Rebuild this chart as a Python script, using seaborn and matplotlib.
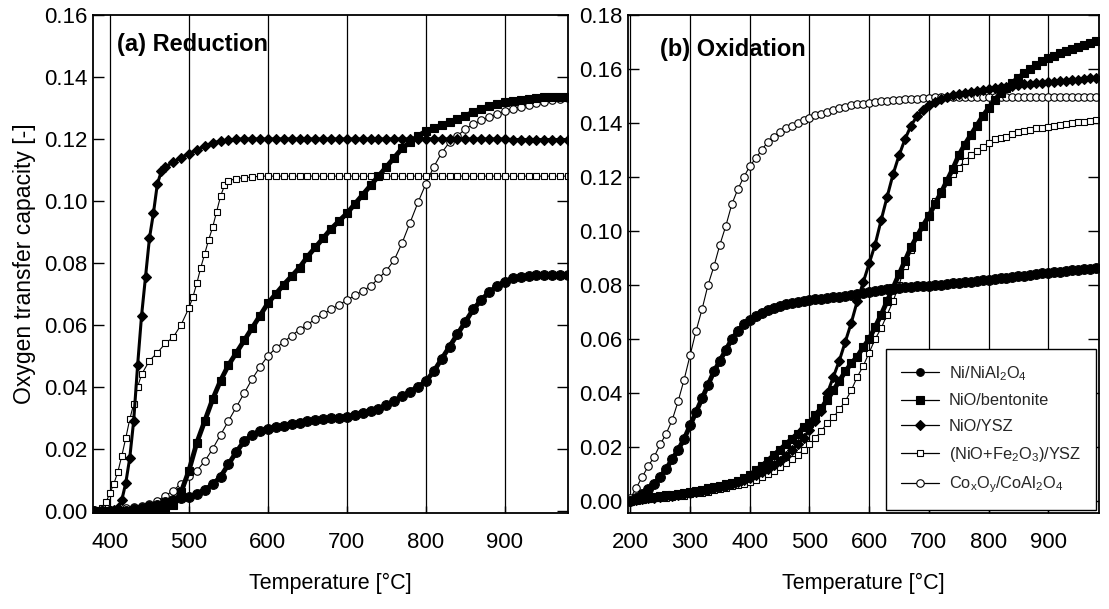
import numpy as np
import pandas as pd
import matplotlib
matplotlib.use("Agg")
import matplotlib.pyplot as plt
from matplotlib import font_manager as fm
from matplotlib.lines import Line2D
import seaborn as sns

# ---------------- data ----------------
series_names = ["Ni/NiAl$_2$O$_4$", "NiO/bentonite", "NiO/YSZ",
                "(NiO+Fe$_2$O$_3$)/YSZ", "Co$_x$O$_y$/CoAl$_2$O$_4$"]

# (a) Reduction
temp_red = [380, 390, 400, 410, 420, 430, 440, 450, 460, 470, 480, 490, 500, 510, 520, 530,
            540, 550, 560, 570, 580, 590, 600, 610, 620, 630, 640, 650, 660, 670, 680, 690,
            700, 710, 720, 730, 740, 750, 760, 770, 780, 790, 800, 810, 820, 830, 840, 850,
            860, 870, 880, 890, 900, 910, 920, 930, 940, 950, 960, 970, 980]

red_ni_nial2o4 = [0.000, 0.000, 0.000, 0.000, 0.000, 0.0005, 0.001, 0.0015, 0.002, 0.003,
                  0.0035, 0.004, 0.0045, 0.0055, 0.0068, 0.0085, 0.011, 0.015, 0.019, 0.0225,
                  0.0245, 0.0257, 0.0265, 0.027, 0.0275, 0.028, 0.0285, 0.029, 0.0293, 0.0296,
                  0.0299, 0.0301, 0.0304, 0.031, 0.0316, 0.0322, 0.033, 0.034, 0.0355, 0.037,
                  0.0385, 0.040, 0.0418, 0.045, 0.049, 0.053, 0.057, 0.061, 0.065, 0.068,
                  0.0705, 0.0725, 0.074, 0.075, 0.0755, 0.0758, 0.076, 0.076, 0.076, 0.076, 0.076]

red_nio_bentonite = [0.000, 0.000, 0.000, 0.000, 0.000, 0.000, 0.000, 0.000, 0.000, 0.0005,
                     0.002, 0.006, 0.013, 0.022, 0.029, 0.036, 0.042, 0.047, 0.051, 0.055,
                     0.059, 0.063, 0.067, 0.070, 0.073, 0.0757, 0.0785, 0.082, 0.085, 0.088,
                     0.091, 0.0935, 0.096, 0.099, 0.102, 0.105, 0.108, 0.111, 0.114, 0.117,
                     0.119, 0.121, 0.1225, 0.1235, 0.1245, 0.1254, 0.1263, 0.1275, 0.1287, 0.1298,
                     0.1306, 0.1313, 0.1318, 0.1322, 0.1326, 0.1329, 0.1332, 0.1334, 0.1335, 0.1336, 0.1337]

temp_red_ysz = [380, 390, 400, 405, 410, 415, 420, 425, 430, 435, 440, 445, 450, 455, 460, 465,
                470, 480, 490, 500, 510, 520, 530, 540, 550, 560, 570, 580, 590, 600, 610, 620,
                630, 640, 650, 660, 670, 680, 690, 700, 710, 720, 730, 740, 750, 760, 770, 780,
                790, 800, 810, 820, 830, 840, 850, 860, 870, 880, 890, 900, 910, 920, 930, 940,
                950, 960, 970, 980]
red_nio_ysz = [0.000, 0.000, 0.000, 0.0003, 0.001, 0.0035, 0.009, 0.017, 0.029, 0.047, 0.063,
               0.0755, 0.088, 0.096, 0.1055, 0.1095, 0.111, 0.1125, 0.114, 0.1153, 0.1165,
               0.1177, 0.1187, 0.1193, 0.1197, 0.1199, 0.120, 0.120, 0.120, 0.120, 0.120, 0.120,
               0.120, 0.120, 0.120, 0.120, 0.120, 0.120, 0.120, 0.120, 0.120, 0.120, 0.120,
               0.120, 0.120, 0.120, 0.120, 0.120, 0.120, 0.120, 0.120, 0.120, 0.120, 0.120,
               0.120, 0.120, 0.120, 0.120, 0.120, 0.120, 0.1198, 0.1198, 0.1198, 0.1198,
               0.1198, 0.1198, 0.1198, 0.1198]

temp_red_fe = [380, 390, 395, 400, 405, 410, 415, 420, 425, 430, 435, 440, 450, 460, 470, 480,
               490, 500, 505, 510, 515, 520, 525, 530, 535, 540, 545, 550, 560, 570, 580, 590,
               600, 610, 620, 630, 640, 650, 660, 670, 680, 690, 700, 710, 720, 730, 740, 750,
               760, 770, 780, 790, 800, 810, 820, 830, 840, 850, 860, 870, 880, 890, 900, 910,
               920, 930, 940, 950, 960, 970, 980]
red_nio_fe2o3_ysz = [0.000, 0.0008, 0.0028, 0.0058, 0.0088, 0.0126, 0.0178, 0.0235, 0.0295,
                     0.0345, 0.040, 0.044, 0.0485, 0.051, 0.054, 0.056, 0.060, 0.0655, 0.069,
                     0.0735, 0.0785, 0.083, 0.0875, 0.0915, 0.0965, 0.1015, 0.105, 0.1065,
                     0.1072, 0.1075, 0.1077, 0.108, 0.108, 0.108, 0.108, 0.108, 0.108, 0.108,
                     0.108, 0.108, 0.108, 0.108, 0.108, 0.108, 0.108, 0.108, 0.108, 0.108,
                     0.108, 0.108, 0.108, 0.108, 0.108, 0.108, 0.108, 0.108, 0.108, 0.108,
                     0.108, 0.108, 0.108, 0.108, 0.108, 0.108, 0.108, 0.108, 0.108, 0.108,
                     0.108, 0.108, 0.108]

red_coxoy = [0.000, 0.000, 0.0003, 0.0005, 0.0008, 0.0012, 0.0017, 0.0023, 0.0033, 0.0048,
             0.0065, 0.0088, 0.0112, 0.013, 0.016, 0.020, 0.0245, 0.029, 0.0335, 0.038,
             0.0425, 0.0465, 0.050, 0.0525, 0.0545, 0.0565, 0.0585, 0.060, 0.062, 0.0635,
             0.065, 0.0665, 0.068, 0.0695, 0.071, 0.0725, 0.075, 0.0775, 0.081, 0.0865,
             0.093, 0.0995, 0.1055, 0.111, 0.1155, 0.119, 0.121, 0.1232, 0.1248, 0.126,
             0.127, 0.128, 0.129, 0.1297, 0.1303, 0.131, 0.1315, 0.132, 0.1325, 0.133, 0.1333]

# (b) Oxidation
temp_ox = [200, 210, 220, 230, 240, 250, 260, 270, 280, 290, 300, 310, 320, 330, 340, 350,
           360, 370, 380, 390, 400, 410, 420, 430, 440, 450, 460, 470, 480, 490, 500, 510,
           520, 530, 540, 550, 560, 570, 580, 590, 600, 610, 620, 630, 640, 650, 660, 670,
           680, 690, 700, 710, 720, 730, 740, 750, 760, 770, 780, 790, 800, 810, 820, 830,
           840, 850, 860, 870, 880, 890, 900, 910, 920, 930, 940, 950, 960, 970, 980]

ox_ni_nial2o4 = [0.000, 0.001, 0.0025, 0.0045, 0.0065, 0.009, 0.012, 0.0155, 0.019, 0.023,
                 0.028, 0.033, 0.038, 0.043, 0.048, 0.052, 0.056, 0.060, 0.063, 0.0655,
                 0.067, 0.0685, 0.0698, 0.0708, 0.0716, 0.0723, 0.0729, 0.0734, 0.0738, 0.0742,
                 0.0745, 0.0748, 0.075, 0.0752, 0.0754, 0.0756, 0.0759, 0.0763, 0.0767, 0.0771,
                 0.0775, 0.0779, 0.0782, 0.0785, 0.0787, 0.0789, 0.0791, 0.0793, 0.0795, 0.0796,
                 0.0797, 0.0799, 0.0801, 0.0803, 0.0806, 0.0808, 0.081, 0.0813, 0.0815, 0.0818,
                 0.082, 0.0823, 0.0825, 0.0828, 0.083, 0.0833, 0.0835, 0.0838, 0.084, 0.0843,
                 0.0845, 0.0847, 0.085, 0.0852, 0.0854, 0.0856, 0.0858, 0.086, 0.0862]

ox_nio_bentonite = [0.000, 0.0004, 0.0008, 0.0012, 0.0015, 0.0018, 0.0021, 0.0024, 0.0027,
                    0.003, 0.0034, 0.0038, 0.0042, 0.0047, 0.0052, 0.0057, 0.0062, 0.0068,
                    0.0075, 0.0085, 0.0095, 0.0115, 0.013, 0.015, 0.017, 0.019, 0.021, 0.023,
                    0.025, 0.0275, 0.029, 0.032, 0.0345, 0.0375, 0.041, 0.0445, 0.048, 0.051,
                    0.0535, 0.057, 0.060, 0.0645, 0.069, 0.074, 0.079, 0.084, 0.089, 0.094,
                    0.098, 0.102, 0.1055, 0.110, 0.114, 0.1185, 0.123, 0.128, 0.132, 0.1355,
                    0.139, 0.1425, 0.1455, 0.1485, 0.151, 0.153, 0.155, 0.1568, 0.1585, 0.160,
                    0.1615, 0.1628, 0.164, 0.165, 0.1658, 0.1665, 0.1673, 0.168, 0.1688, 0.1695,
                    0.1702]

ox_nio_ysz = [0.000, 0.0003, 0.0006, 0.001, 0.0012, 0.0015, 0.0018, 0.002, 0.0023, 0.0026,
              0.003, 0.0034, 0.0038, 0.0042, 0.0047, 0.0052, 0.0057, 0.0063, 0.007, 0.0078,
              0.0087, 0.0097, 0.0108, 0.012, 0.0135, 0.015, 0.0168, 0.0188, 0.021, 0.0235,
              0.0262, 0.0295, 0.0335, 0.040, 0.046, 0.052, 0.059, 0.066, 0.074, 0.081,
              0.088, 0.095, 0.104, 0.1126, 0.121, 0.128, 0.134, 0.139, 0.1425, 0.145,
              0.1465, 0.1478, 0.1488, 0.1496, 0.1502, 0.1507, 0.1512, 0.1516, 0.152, 0.1523,
              0.1526, 0.1529, 0.1532, 0.1535, 0.1538, 0.1541, 0.1543, 0.1545, 0.1547, 0.1549,
              0.1551, 0.1553, 0.1555, 0.1557, 0.1559, 0.1561, 0.1563, 0.1565, 0.1567]

ox_nio_fe2o3_ysz = [0.000, 0.0003, 0.0005, 0.0007, 0.001, 0.001, 0.0013, 0.0015, 0.002, 0.002,
                    0.0025, 0.003, 0.003, 0.0035, 0.004, 0.0045, 0.005, 0.0055, 0.006, 0.0065,
                    0.007, 0.008, 0.009, 0.010, 0.011, 0.0125, 0.014, 0.0155, 0.017, 0.019,
                    0.021, 0.0235, 0.026, 0.029, 0.031, 0.034, 0.037, 0.041, 0.046, 0.050,
                    0.055, 0.060, 0.064, 0.069, 0.074, 0.080, 0.087, 0.093, 0.098, 0.102,
                    0.106, 0.111, 0.115, 0.118, 0.121, 0.1235, 0.126, 0.128, 0.1295, 0.131,
                    0.1325, 0.134, 0.1345, 0.135, 0.1358, 0.1365, 0.137, 0.1375, 0.138, 0.1383,
                    0.1386, 0.139, 0.1393, 0.1396, 0.140, 0.1402, 0.1405, 0.1407, 0.141]

ox_coxoy = [0.001, 0.005, 0.009, 0.013, 0.0165, 0.021, 0.025, 0.030, 0.037, 0.045,
            0.054, 0.063, 0.071, 0.080, 0.087, 0.095, 0.102, 0.110, 0.1155, 0.120,
            0.124, 0.127, 0.130, 0.133, 0.135, 0.1365, 0.138, 0.139, 0.140, 0.141,
            0.142, 0.143, 0.1435, 0.144, 0.1448, 0.1455, 0.146, 0.1465, 0.147, 0.147,
            0.1475, 0.1478, 0.148, 0.1482, 0.1484, 0.1486, 0.1488, 0.149, 0.149, 0.1492,
            0.1494, 0.1495, 0.1495, 0.1495, 0.1495, 0.1495, 0.1495, 0.1495, 0.1495, 0.1495,
            0.1495, 0.1495, 0.1495, 0.1495, 0.1495, 0.1495, 0.1495, 0.1495, 0.1495, 0.1495,
            0.1495, 0.1495, 0.1495, 0.1495, 0.1495, 0.1495, 0.1495, 0.1495, 0.1495]

red_xticks = [400, 500, 600, 700, 800, 900]
ox_xticks = [200, 300, 400, 500, 600, 700, 800, 900]
red_yticks = [0.00, 0.02, 0.04, 0.06, 0.08, 0.10, 0.12, 0.14, 0.16]
ox_yticks = [0.00, 0.02, 0.04, 0.06, 0.08, 0.10, 0.12, 0.14, 0.16, 0.18]

# ---------------- style ----------------
sns.set_theme(style="white")


def has_font(name):
    try:
        fm.findfont(fm.FontProperties(family=name), fallback_to_default=False)
        return True
    except Exception:
        return False


FONT = "Liberation Sans" if has_font("Liberation Sans") else "DejaVu Sans"
plt.rcParams["font.family"] = [FONT, "DejaVu Sans"]
plt.rcParams["mathtext.fontset"] = "custom"
plt.rcParams["mathtext.rm"] = FONT
plt.rcParams["mathtext.it"] = FONT
plt.rcParams["mathtext.default"] = "regular"

TICK_FS = 16
XLABEL_FS = 15.5
YLABEL_FS = 16.5
TITLE_FS = 17
LEG_FS = 11.8

# filled series get a heavy connecting line so the dense markers read as a band
styles = [
    dict(marker="o", markersize=7.0, markerfacecolor="black", linewidth=3.5),
    dict(marker="s", markersize=6.0, markerfacecolor="black", linewidth=3.5),
    dict(marker="D", markersize=5.2, markerfacecolor="black", linewidth=2.2),
    dict(marker="s", markersize=5.0, markerfacecolor="white", linewidth=0.8),
    dict(marker="o", markersize=5.4, markerfacecolor="white", linewidth=0.8),
]
draw_order = [4, 3, 0, 1, 2]

fig = plt.figure(figsize=(11.09, 6.09), dpi=100)
ax1 = fig.add_axes([93 / 1109, 1 - 513 / 609, (568 - 93) / 1109, (513 - 15) / 609])
ax2 = fig.add_axes([628 / 1109, 1 - 513 / 609, (1099 - 628) / 1109, (513 - 15) / 609])

red_sets = [(temp_red, red_ni_nial2o4), (temp_red, red_nio_bentonite),
            (temp_red_ysz, red_nio_ysz), (temp_red_fe, red_nio_fe2o3_ysz),
            (temp_red, red_coxoy)]
ox_sets = [(temp_ox, ox_ni_nial2o4), (temp_ox, ox_nio_bentonite), (temp_ox, ox_nio_ysz),
           (temp_ox, ox_nio_fe2o3_ysz), (temp_ox, ox_coxoy)]


def draw(ax, sets):
    for i in draw_order:
        xs, ys = sets[i]
        st = styles[i]
        df = pd.DataFrame({"T": xs, "v": ys})
        sns.lineplot(data=df, x="T", y="v", ax=ax, color="black",
                     markeredgecolor="black", markeredgewidth=0.8, sort=False,
                     estimator=None, errorbar=None, legend=False, **st)


draw(ax1, red_sets)
draw(ax2, ox_sets)

for ax, xt, yt, xl, yl, title, tx, ty in [
        (ax1, red_xticks, red_yticks, (378.5, 980), (-0.0007, 0.16), "(a) Reduction", 0.05, 0.94),
        (ax2, ox_xticks, ox_yticks, (196, 985), (-0.0044, 0.18), "(b) Oxidation", 0.068, 0.93)]:
    ax.set_xlim(*xl)
    ax.set_ylim(*yl)
    ax.set_xticks(xt)
    ax.set_yticks(yt)
    ax.set_yticklabels([f"{v:.2f}" for v in yt])
    ax.xaxis.grid(True, color="black", linewidth=0.9)
    ax.yaxis.grid(False)
    ax.set_axisbelow(True)
    ax.tick_params(axis="y", which="major", direction="in", length=8, width=1,
                   colors="black", labelsize=TICK_FS, left=True, right=True, pad=4)
    ax.tick_params(axis="x", which="major", direction="in", length=5, width=1,
                   colors="black", labelsize=TICK_FS, bottom=True, top=False, pad=14)
    for sp in ax.spines.values():
        sp.set_color("black")
        sp.set_linewidth(1.3)
    ax.set_xlabel("Temperature [°C]", fontsize=XLABEL_FS, color="black", labelpad=14)
    ax.set_ylabel("")
    ax.text(tx, ty, title, transform=ax.transAxes, fontsize=TITLE_FS,
            fontweight="bold", ha="left", va="center", color="black")

ax1.set_ylabel("Oxygen transfer capacity [-]", fontsize=YLABEL_FS, color="black", labelpad=6)

handles = [Line2D([], [], color="black", markeredgecolor="black", markeredgewidth=0.8,
                  **{**st, "linewidth": 0.9, "markersize": min(st["markersize"], 5.5)})
           for st in styles]
leg = ax2.legend(handles, series_names, loc="lower right", fontsize=LEG_FS,
                 frameon=True, fancybox=False, framealpha=1, edgecolor="black",
                 borderaxespad=0.2, handlelength=2.3, labelspacing=0.65,
                 borderpad=0.9, handletextpad=0.6)
leg.get_frame().set_linewidth(1.0)

fig.savefig("out.png", dpi=100)
